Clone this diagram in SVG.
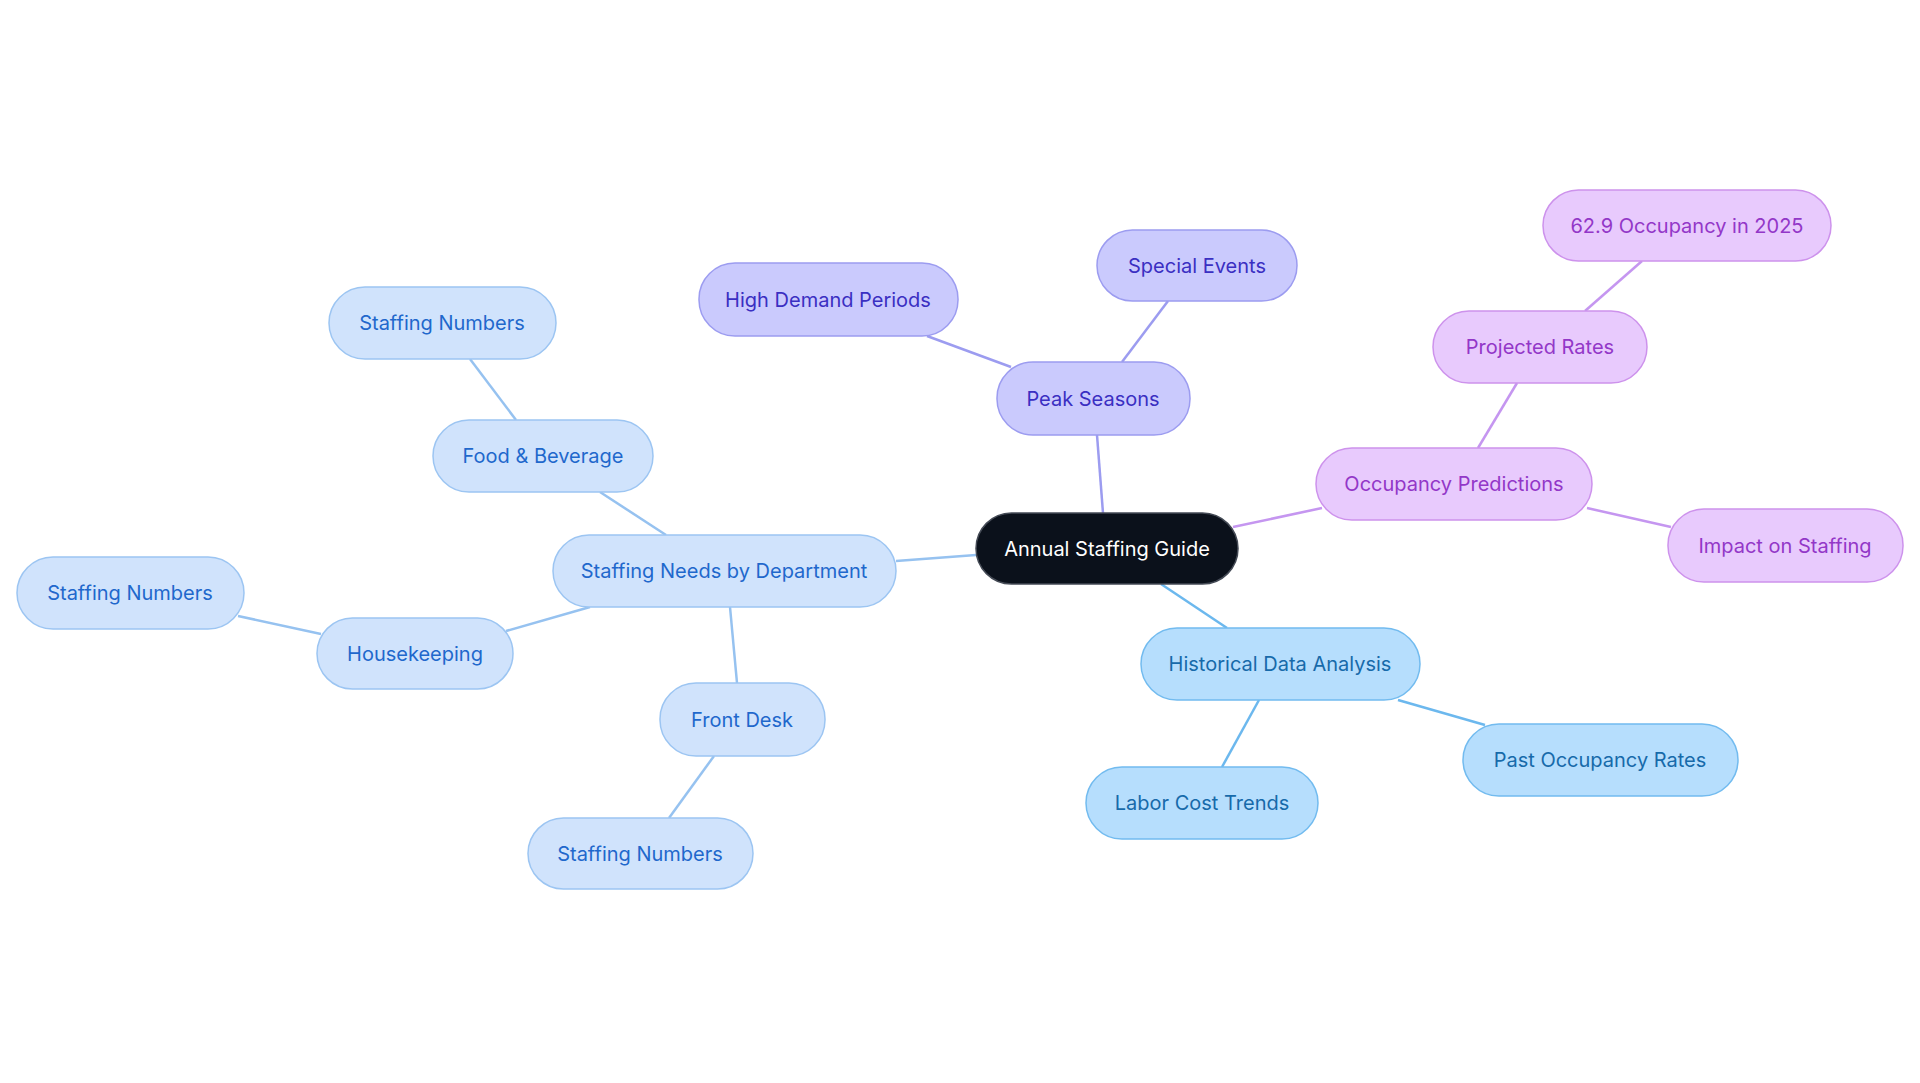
<svg xmlns="http://www.w3.org/2000/svg" width="1920" height="1083" viewBox="0 0 1920 1083">
<style>
text{font-family:Inter,"Noto Sans",sans-serif;font-size:20px;text-anchor:middle;dominant-baseline:central}
.r rect{fill:#0b111b;stroke:#444a55;stroke-width:1.5}.r text{fill:#fff}
.p rect{fill:#cacafd;stroke:#9c9cf0;stroke-width:1.5}.p text{fill:#3a2fc2}
.o rect{fill:#e8cafd;stroke:#cd92ec;stroke-width:1.5}.o text{fill:#9337c8}
.h rect{fill:#b6defd;stroke:#72bbef;stroke-width:1.5}.h text{fill:#176aaa}
.s rect{fill:#d0e3fc;stroke:#9cc5f2;stroke-width:1.5}.s text{fill:#1f68cc}
#edges line{stroke-width:2.5}
</style>
<rect width="1920" height="1083" fill="#fff"/>
<g id="edges">
<g stroke="#9c9cf0"><line x1="1103" y1="513" x2="1097" y2="435"/><line x1="1011" y1="367" x2="927" y2="336"/><line x1="1122" y1="362" x2="1168" y2="301"/></g>
<g stroke="#c596f0"><line x1="1233" y1="527" x2="1322" y2="508"/><line x1="1478" y1="448" x2="1517" y2="383"/><line x1="1585" y1="311" x2="1642" y2="261"/><line x1="1587" y1="508" x2="1671" y2="527"/></g>
<g stroke="#6cb8ee"><line x1="1161" y1="584" x2="1227" y2="628"/><line x1="1398" y1="700" x2="1485" y2="725"/><line x1="1259" y1="700" x2="1222" y2="767"/></g>
<g stroke="#96c2f0"><line x1="976" y1="555" x2="896" y2="561"/><line x1="666" y1="535" x2="600" y2="492"/><line x1="516" y1="420" x2="470" y2="359"/><line x1="590" y1="607" x2="506" y2="631"/><line x1="321" y1="634" x2="238" y2="616"/><line x1="730" y1="607" x2="737" y2="683"/><line x1="714" y1="756" x2="669" y2="818"/></g>
</g>
<g id="root" class="r"><rect x="976" y="513" width="262" height="71" rx="35.5"/><text x="1107" y="548.5">Annual Staffing Guide</text></g>
<g id="peak" class="p"><rect x="997" y="362" width="193" height="73" rx="36"/><text x="1093" y="398.5">Peak Seasons</text></g>
<g id="high" class="p"><rect x="699" y="263" width="259" height="73" rx="36"/><text x="828" y="299.5">High Demand Periods</text></g>
<g id="special" class="p"><rect x="1097" y="230" width="200" height="71" rx="35.5"/><text x="1197" y="265.5">Special Events</text></g>
<g id="occ" class="o"><rect x="1316" y="448" width="276" height="72" rx="36"/><text x="1454" y="484">Occupancy Predictions</text></g>
<g id="proj" class="o"><rect x="1433" y="311" width="214" height="72" rx="36"/><text x="1540" y="347">Projected Rates</text></g>
<g id="occ2025" class="o"><rect x="1543" y="190" width="288" height="71" rx="35.5"/><text x="1687" y="225.5">62.9 Occupancy in 2025</text></g>
<g id="impact" class="o"><rect x="1668" y="509" width="235" height="73" rx="36"/><text x="1785" y="545.5">Impact on Staffing</text></g>
<g id="hist" class="h"><rect x="1141" y="628" width="279" height="72" rx="36"/><text x="1280" y="664">Historical Data Analysis</text></g>
<g id="past" class="h"><rect x="1463" y="724" width="275" height="72" rx="36"/><text x="1600" y="760">Past Occupancy Rates</text></g>
<g id="labor" class="h"><rect x="1086" y="767" width="232" height="72" rx="36"/><text x="1202" y="803">Labor Cost Trends</text></g>
<g id="staff" class="s"><rect x="553" y="535" width="343" height="72" rx="36"/><text x="724" y="571">Staffing Needs by Department</text></g>
<g id="food" class="s"><rect x="433" y="420" width="220" height="72" rx="36"/><text x="543" y="456">Food &amp; Beverage</text></g>
<g id="sn1" class="s"><rect x="329" y="287" width="227" height="72" rx="36"/><text x="442" y="323">Staffing Numbers</text></g>
<g id="house" class="s"><rect x="317" y="618" width="196" height="71" rx="35.5"/><text x="415" y="653.5">Housekeeping</text></g>
<g id="sn2" class="s"><rect x="17" y="557" width="227" height="72" rx="36"/><text x="130" y="593">Staffing Numbers</text></g>
<g id="front" class="s"><rect x="660" y="683" width="165" height="73" rx="36"/><text x="742" y="719.5">Front Desk</text></g>
<g id="sn3" class="s"><rect x="528" y="818" width="225" height="71" rx="35.5"/><text x="640" y="853.5">Staffing Numbers</text></g>
</svg>
